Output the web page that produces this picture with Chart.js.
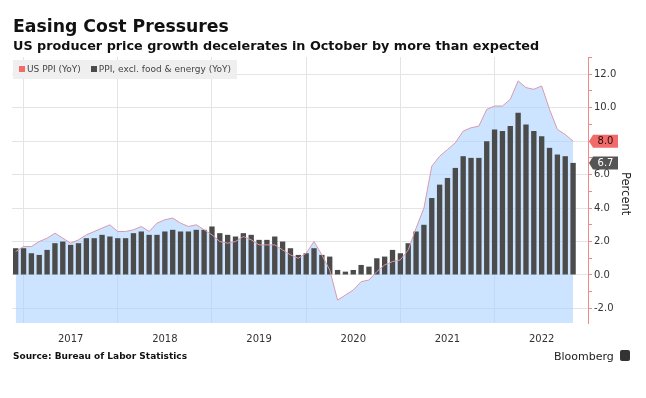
<!DOCTYPE html>
<html>
<head>
<meta charset="utf-8">
<script src="https://cdn.jsdelivr.net/npm/chart.js@4.4.0/dist/chart.umd.min.js"></script>
<style>
  body { margin: 0; background: #fff; }
  #wrap { position: relative; width: 646px; height: 398px; font-family: "DejaVu Sans", sans-serif; color: #111; }
  #chart { position: absolute; left: 0; top: 0; }
  .title { position: absolute; left: 13px; top: 18px; font-size: 17.3px; font-weight: bold; line-height: 1; white-space: nowrap; }
  .subtitle { position: absolute; left: 13px; top: 40px; font-size: 12.8px; font-weight: bold; line-height: 1; white-space: nowrap; }
  #legend { position: absolute; left: 13px; top: 60px; width: 224px; height: 19px; background: #efefef; font-size: 9px; color: #444; line-height: 19px; white-space: nowrap; }
  #legend .sw { display: inline-block; width: 6px; height: 6px; margin: 0 2px 0 6px; vertical-align: 0px; }
  .percent { position: absolute; left: 619px; top: 172px; writing-mode: vertical-rl; font-size: 11.5px; line-height: 13px; color: #222; }
  .source { position: absolute; left: 13px; top: 352px; font-size: 9px; font-weight: bold; line-height: 1; }
  .brand { position: absolute; left: 554px; top: 351px; font-size: 11px; line-height: 1; color: #222; }
  .logo { position: absolute; left: 620px; top: 350px; width: 10px; height: 11px; background: #333; border-radius: 2px; }
</style>
</head>
<body>
<div id="wrap">
  <canvas id="chart" width="646" height="398"></canvas>
  <div class="title">Easing Cost Pressures</div>
  <div class="subtitle">US producer price growth decelerates in October by more than expected</div>
  <div id="legend"><span class="sw" style="background:#f26b6b;margin-left:6px"></span>US PPI (YoY)<span class="sw" style="background:#4b4b4b;margin-left:10px"></span>PPI, excl. food &amp; energy (YoY)</div>
  <div class="percent">Percent</div>
  <div class="source">Source: Bureau of Labor Statistics</div>
  <div class="brand">Bloomberg</div>
  <div class="logo"></div>
</div>
<script>
const months = [
  "Nov 2016", "Dec 2016",
  "Jan 2017", "Feb 2017", "Mar 2017", "Apr 2017", "May 2017", "Jun 2017", "Jul 2017", "Aug 2017", "Sep 2017", "Oct 2017", "Nov 2017", "Dec 2017",
  "Jan 2018", "Feb 2018", "Mar 2018", "Apr 2018", "May 2018", "Jun 2018", "Jul 2018", "Aug 2018", "Sep 2018", "Oct 2018", "Nov 2018", "Dec 2018",
  "Jan 2019", "Feb 2019", "Mar 2019", "Apr 2019", "May 2019", "Jun 2019", "Jul 2019", "Aug 2019", "Sep 2019", "Oct 2019", "Nov 2019", "Dec 2019",
  "Jan 2020", "Feb 2020", "Mar 2020", "Apr 2020", "May 2020", "Jun 2020", "Jul 2020", "Aug 2020", "Sep 2020", "Oct 2020", "Nov 2020", "Dec 2020",
  "Jan 2021", "Feb 2021", "Mar 2021", "Apr 2021", "May 2021", "Jun 2021", "Jul 2021", "Aug 2021", "Sep 2021", "Oct 2021", "Nov 2021", "Dec 2021",
  "Jan 2022", "Feb 2022", "Mar 2022", "Apr 2022", "May 2022", "Jun 2022", "Jul 2022", "Aug 2022", "Sep 2022", "Oct 2022",
];

// US PPI final demand, YoY %
const usPpi = [
  1.4, 1.7,
  1.7, 2.0, 2.2, 2.5, 2.2, 1.9, 2.1, 2.4, 2.6, 2.8, 3.0, 2.6,
  2.6, 2.7, 2.9, 2.6, 3.1, 3.3, 3.4, 3.1, 2.9, 3.0, 2.7, 2.4,
  2.0, 1.9, 2.0, 2.3, 2.1, 1.8, 1.8, 1.8, 1.5, 1.2, 1.0, 1.3,
  2.0, 1.2, 0.3, -1.5, -1.2, -0.9, -0.4, -0.3, 0.2, 0.6, 0.8, 0.9,
  1.5, 2.8, 4.0, 6.5, 7.1, 7.5, 7.9, 8.6, 8.8, 8.9, 9.9, 10.1,
  10.1, 10.5, 11.6, 11.2, 11.1, 11.3, 9.9, 8.7, 8.4, 8.0,
];

// PPI excl. food & energy, YoY %
const coreExFoodEnergy = [
  1.6, 1.6,
  1.3, 1.2, 1.5, 1.9, 2.0, 1.8, 1.9, 2.2, 2.2, 2.4, 2.3, 2.2,
  2.2, 2.5, 2.6, 2.4, 2.4, 2.6, 2.7, 2.6, 2.6, 2.7, 2.7, 2.9,
  2.5, 2.4, 2.3, 2.5, 2.4, 2.1, 2.1, 2.3, 2.0, 1.6, 1.2, 1.3,
  1.6, 1.2, 1.1, 0.3, 0.2, 0.3, 0.6, 0.5, 1.0, 1.1, 1.5, 1.3,
  1.9, 2.6, 3.0, 4.6, 5.4, 5.8, 6.4, 7.1, 7.0, 7.0, 8.0, 8.7,
  8.6, 8.9, 9.7, 9.0, 8.6, 8.3, 7.6, 7.2, 7.1, 6.7,
];

const yTicks = [-2, 0, 2, 4, 6, 8, 10, 12];

// gridlines at year boundaries (Dec), year labels mid-year (Jun)
const tickIdx = months
  .map((m, i) => (m.startsWith("Dec") || m.startsWith("Jun") ? i : -1))
  .filter((i) => i >= 0);

const endLabels = {
  id: "endLabels",
  afterDraw(chart) {
    const { ctx, scales: { y } } = chart;
    const x0 = chart.chartArea.right + 1;
    const items = [
      { value: usPpi[usPpi.length - 1], bg: "#f26b6b", fg: "#2a0808" },
      { value: coreExFoodEnergy[coreExFoodEnergy.length - 1], bg: "#555555", fg: "#ffffff" },
    ];
    ctx.save();
    ctx.font = '10px "DejaVu Sans"';
    items.forEach((it) => {
      const yy = y.getPixelForValue(it.value);
      const h = 13, w = 25, a = 4;
      ctx.beginPath();
      ctx.moveTo(x0, yy);
      ctx.lineTo(x0 + a, yy - h / 2);
      ctx.lineTo(x0 + a + w, yy - h / 2);
      ctx.lineTo(x0 + a + w, yy + h / 2);
      ctx.lineTo(x0 + a, yy + h / 2);
      ctx.closePath();
      ctx.fillStyle = it.bg;
      ctx.fill();
      ctx.fillStyle = it.fg;
      ctx.textAlign = "center";
      ctx.textBaseline = "middle";
      ctx.fillText(it.value.toFixed(1), x0 + a + w / 2, yy + 0.5);
    });
    ctx.restore();
  },
};

new Chart(document.getElementById("chart"), {
  type: "bar",
  data: {
    datasets: [
      {
        type: "line",
        label: "US PPI (YoY)",
        data: usPpi.map((v, i) => ({ x: i, y: v })),
        borderColor: "#d89aae",
        borderWidth: 1,
        pointRadius: 0,
        fill: "start",
        backgroundColor: "rgba(170, 210, 255, 0.6)",
        order: 0,
      },
      {
        label: "PPI, excl. food & energy (YoY)",
        data: coreExFoodEnergy.map((v, i) => ({ x: i, y: v })),
        backgroundColor: "#4b4b4b",
        categoryPercentage: 0.8,
        barPercentage: 0.85,
        order: 1,
      },
    ],
  },
  options: {
    responsive: false,
    animation: false,
    layout: { padding: { top: 57, left: 12, right: 0, bottom: 45 } },
    plugins: {
      legend: { display: false },
      tooltip: { enabled: false },
      filler: { drawTime: "beforeDatasetsDraw" },
    },
    scales: {
      x: {
        type: "linear",
        min: -0.47,
        max: 72.9,
        offset: false,
        afterBuildTicks: (scale) => {
          scale.ticks = tickIdx.map((v) => ({ value: v }));
        },
        afterFit: (scale) => {
          scale.height = 30;
        },
        grid: {
          offset: false,
          drawTicks: false,
          color: (c) => (c.tick && months[c.tick.value] && months[c.tick.value].startsWith("Dec") ? "#e4e4e4" : "rgba(0,0,0,0)"),
        },
        border: { display: false },
        ticks: {
          autoSkip: false,
          maxRotation: 0,
          padding: 10,
          color: "#333",
          font: { family: "DejaVu Sans", size: 10 },
          callback: (v) => (months[v] && months[v].startsWith("Jun") ? months[v].slice(4) : ""),
        },
      },
      y: {
        position: "right",
        min: -2.87,
        max: 13.03,
        afterFit: (scale) => {
          scale.width = 58;
        },
        grid: {
          color: (c) => (c.tick && yTicks.includes(c.tick.value) ? "#e4e4e4" : "rgba(0,0,0,0)"),
          tickColor: "#ef8a8a",
          tickLength: 4,
        },
        border: { display: true, color: "#ef8a8a" },
        ticks: {
          stepSize: 1,
          includeBounds: false,
          padding: 2,
          color: "#333",
          font: { family: "DejaVu Sans", size: 10 },
          callback: (v) => (yTicks.includes(v) ? v.toFixed(1) : ""),
        },
      },
    },
  },
  plugins: [endLabels],
});
</script>
</body>
</html>
